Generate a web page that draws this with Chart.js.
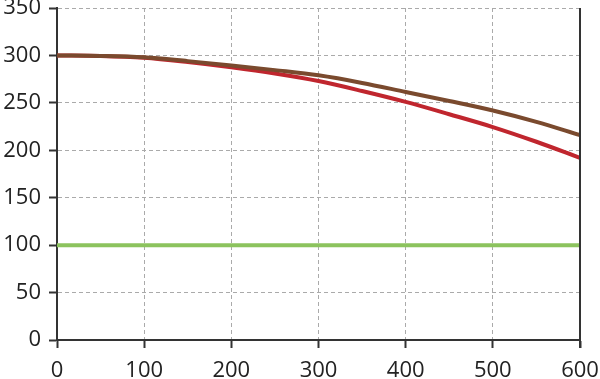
<!DOCTYPE html>
<html>
<head>
<meta charset="utf-8">
<script src="https://cdn.jsdelivr.net/npm/chart.js@4/dist/chart.umd.min.js"></script>
<style>
  html, body { margin: 0; padding: 0; background: #fff; }
  #wrap { width: 600px; height: 379px; }
</style>
</head>
<body>
<div id="wrap"><canvas id="myChart"></canvas></div>
<script>
// x positions (read every 50 units)
var xs = [0, 50, 100, 150, 200, 250, 300, 350, 400, 450, 500, 550, 600];
// brown curve (upper)
var brownVals = [300, 299.5, 298, 294, 289.5, 284.5, 279, 271, 261.5, 252, 242, 230, 216];
// red curve (lower)
var redVals = [300, 299.5, 297.5, 293, 287.5, 281, 273, 262.5, 251, 238, 224.5, 209, 192];
// flat green line
var greenX = [0, 600];
var greenVals = [100, 100];

function pts(x, y) {
    var out = [];
    for (var i = 0; i < x.length; i++) out.push({ x: x[i], y: y[i] });
    return out;
}

// solid right frame line
const rightBorder = {
    id: 'rightBorder',
    afterDraw: function (chart) {
        var a = chart.chartArea, c = chart.ctx;
        c.save();
        c.strokeStyle = '#333';
        c.lineWidth = 2;
        c.beginPath();
        c.moveTo(a.right, a.top);
        c.lineTo(a.right, a.bottom + 8);
        c.stroke();
        c.restore();
    }
};

const ctx = document.getElementById('myChart');
const myChart = new Chart(ctx, {
    type: 'line',
    data: {
        datasets: [{
            data: pts(greenX, greenVals),
            borderColor: '#8cc35e',
            borderWidth: 4,
            pointRadius: 0
        }, {
            data: pts(xs, brownVals),
            borderColor: '#7a4a2e',
            borderWidth: 4,
            pointRadius: 0,
            cubicInterpolationMode: 'monotone'
        }, {
            data: pts(xs, redVals),
            borderColor: '#c0262e',
            borderWidth: 4,
            pointRadius: 0,
            cubicInterpolationMode: 'monotone'
        }]
    },
    options: {
        responsive: true,
        maintainAspectRatio: false,
        animation: false,
        layout: { padding: { top: 8, right: 20, left: 0, bottom: 0 } },
        plugins: {
            legend: { display: false },
            tooltip: { enabled: false }
        },
        scales: {
            x: {
                type: 'linear',
                min: 0,
                max: 600,
                ticks: {
                    stepSize: 100,
                    padding: 10,
                    color: '#222',
                    font: { family: 'Open Sans', size: 22 },
                    maxRotation: 0
                },
                grid: {
                    color: '#aaa',
                    tickColor: '#333',
                    tickLength: 8,
                    tickWidth: 2,
                    lineWidth: 1
                },
                border: { display: true, color: '#333', width: 2, dash: [4, 3] },
                afterFit: function (s) {
                    s.height = 39;
                    s.paddingLeft = 0;
                    s.paddingRight = 0;
                }
            },
            y: {
                min: 0,
                max: 350,
                ticks: {
                    stepSize: 50,
                    padding: 8,
                    color: '#222',
                    font: { family: 'Open Sans', size: 22 }
                },
                grid: {
                    color: '#aaa',
                    tickColor: '#333',
                    tickLength: 8,
                    tickWidth: 2,
                    lineWidth: 1
                },
                border: { display: true, color: '#333', width: 2, dash: [4, 3] },
                afterFit: function (s) {
                    s.width = 57;
                    s.paddingTop = 0;
                    s.paddingBottom = 0;
                }
            }
        }
    },
    plugins: [rightBorder]
});
</script>
</body>
</html>
